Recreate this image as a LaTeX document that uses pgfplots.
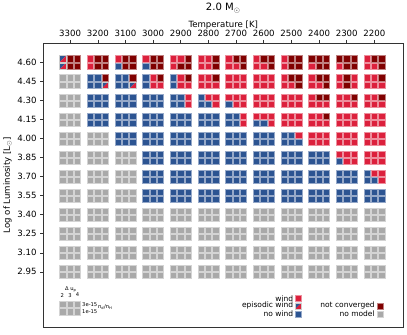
\documentclass[border=0pt]{standalone}
\usepackage{pgfplots}
\usepackage{pgfplotstable}
\pgfplotsset{compat=1.18}
\usepackage{fontspec}
\setmainfont{DejaVu Sans}

\definecolor{cW}{RGB}{220,32,60}
\definecolor{cC}{RGB}{128,0,0}
\definecolor{cN}{RGB}{44,84,146}
\definecolor{cG}{RGB}{169,169,169}

% episodic wind: no-wind blue upper left, wind red lower right
\pgfdeclareplotmark{episodic}{%
  \pgfpathmoveto{\pgfqpoint{-\pgfplotmarksize}{-\pgfplotmarksize}}%
  \pgfpathlineto{\pgfqpoint{-\pgfplotmarksize}{\pgfplotmarksize}}%
  \pgfpathlineto{\pgfqpoint{\pgfplotmarksize}{\pgfplotmarksize}}%
  \pgfpathclose
  \pgfsetfillcolor{cN}\pgfusepath{fill}%
  \pgfpathmoveto{\pgfqpoint{-\pgfplotmarksize}{-\pgfplotmarksize}}%
  \pgfpathlineto{\pgfqpoint{\pgfplotmarksize}{-\pgfplotmarksize}}%
  \pgfpathlineto{\pgfqpoint{\pgfplotmarksize}{\pgfplotmarksize}}%
  \pgfpathclose
  \pgfsetfillcolor{cW}\pgfusepath{fill}%
  \pgfpathrectangle{\pgfqpoint{-\pgfplotmarksize}{-\pgfplotmarksize}}%
    {\pgfqpoint{2\pgfplotmarksize}{2\pgfplotmarksize}}%
  \pgfusepath{stroke}%
}

% a b c: upper row (3e-15), du = 2 3 4 ; d e f: lower row (1e-15)
\pgfplotstableread{
T L a b c d e f
3300 4.60 E C C E C C
3200 4.60 W C C W C C
3100 4.60 W C C N C C
3000 4.60 W C C N C C
2900 4.60 W W C W C C
2800 4.60 W W C W W C
2700 4.60 W C C W W C
2600 4.60 W C C W W C
2500 4.60 W C C W C C
2400 4.60 C C C W C C
2300 4.60 C C C W C C
2200 4.60 W C C W W C
3300 4.45 G G G G G G
3200 4.45 N N C N N E
3100 4.45 N N C N N E
3000 4.45 N W C N W W
2900 4.45 N W C N W W
2800 4.45 W W C W W W
2700 4.45 W W W W W W
2600 4.45 W W W W W W
2500 4.45 W C C W W C
2400 4.45 W C C W W C
2300 4.45 W C W W C W
2200 4.45 W W C W W W
3300 4.30 G G G G G G
3200 4.30 N N N N N N
3100 4.30 N N N N N N
3000 4.30 N N N N N N
2900 4.30 N N W N N W
2800 4.30 N W W N N W
2700 4.30 W W W N W W
2600 4.30 W W W W W W
2500 4.30 W W W W W W
2400 4.30 W C C W W W
2300 4.30 W W C W W W
2200 4.30 W W C W W W
3300 4.15 G G G G G G
3200 4.15 N N N N N N
3100 4.15 N N N N N N
3000 4.15 N N N N N N
2900 4.15 N N N N N N
2800 4.15 N N N N N N
2700 4.15 N N W N N W
2600 4.15 W W W N N W
2500 4.15 W W W W W W
2400 4.15 W W C W W W
2300 4.15 W W W W W W
2200 4.15 W W W W W W
3300 4.00 G G G G G G
3200 4.00 G G G G G G
3100 4.00 N N N N N N
3000 4.00 N N N N N N
2900 4.00 N N N N N N
2800 4.00 N N N N N N
2700 4.00 N N N N N N
2600 4.00 N N N N N N
2500 4.00 N N W N N N
2400 4.00 W W W W W W
2300 4.00 W W W W W W
2200 4.00 W W W W W W
3300 3.85 G G G G G G
3200 3.85 G G G G G G
3100 3.85 G G G G G G
3000 3.85 N N N N N N
2900 3.85 N N N N N N
2800 3.85 N N N N N N
2700 3.85 N N N N N N
2600 3.85 N N N N N N
2500 3.85 N N N N N N
2400 3.85 N N N N N N
2300 3.85 W W W N W W
2200 3.85 W W W W W W
3300 3.70 G G G G G G
3200 3.70 G G G G G G
3100 3.70 G G G G G G
3000 3.70 N N N N N N
2900 3.70 N N N N N N
2800 3.70 N N N N N N
2700 3.70 N N N N N N
2600 3.70 N N N N N N
2500 3.70 N N N N N N
2400 3.70 N N N N N N
2300 3.70 N N N N N N
2200 3.70 N W W N N W
3300 3.55 G G G G G G
3200 3.55 G G G G G G
3100 3.55 G G G G G G
3000 3.55 N N N N N N
2900 3.55 N N N N N N
2800 3.55 N N N N N N
2700 3.55 N N N N N N
2600 3.55 N N N N N N
2500 3.55 N N N N N N
2400 3.55 N N N N N N
2300 3.55 N N N N N N
2200 3.55 N N N N N N
3300 3.40 G G G G G G
3200 3.40 G G G G G G
3100 3.40 G G G G G G
3000 3.40 G G G G G G
2900 3.40 G G G G G G
2800 3.40 G G G G G G
2700 3.40 G G G G G G
2600 3.40 G G G G G G
2500 3.40 G G G G G G
2400 3.40 G G G G G G
2300 3.40 G G G G G G
2200 3.40 G G G G G G
3300 3.25 G G G G G G
3200 3.25 G G G G G G
3100 3.25 G G G G G G
3000 3.25 G G G G G G
2900 3.25 G G G G G G
2800 3.25 G G G G G G
2700 3.25 G G G G G G
2600 3.25 G G G G G G
2500 3.25 G G G G G G
2400 3.25 G G G G G G
2300 3.25 G G G G G G
2200 3.25 G G G G G G
3300 3.10 G G G G G G
3200 3.10 G G G G G G
3100 3.10 G G G G G G
3000 3.10 G G G G G G
2900 3.10 G G G G G G
2800 3.10 G G G G G G
2700 3.10 G G G G G G
2600 3.10 G G G G G G
2500 3.10 G G G G G G
2400 3.10 G G G G G G
2300 3.10 G G G G G G
2200 3.10 G G G G G G
3300 2.95 G G G G G G
3200 2.95 G G G G G G
3100 2.95 G G G G G G
3000 2.95 G G G G G G
2900 2.95 G G G G G G
2800 2.95 G G G G G G
2700 2.95 G G G G G G
2600 2.95 G G G G G G
2500 2.95 G G G G G G
2400 2.95 G G G G G G
2300 2.95 G G G G G G
2200 2.95 G G G G G G
}\cells

\pgfplotsset{
  cellpts/.style={only marks, scatter, point meta=explicit symbolic,
    mark size=3.25pt, mark options={line width=0.5pt},
    scatter/classes={
      W={mark=square*, fill=cW, draw=cW!50!white},
      C={mark=square*, fill=cC, draw=cC!50!white},
      N={mark=square*, fill=cN, draw=cN!50!white},
      G={mark=square*, fill=cG, draw=cG!50!white},
      E={mark=episodic, draw=white!60!gray}}},
}
\tikzset{
  legtxt/.style={font=\fontsize{7.6}{9}\selectfont, inner sep=1pt},
  keytxt/.style={font=\fontsize{5.3}{6}\selectfont, inner sep=0.5pt},
}

\begin{document}
\begin{tikzpicture}
\begin{axis}[
    width=364pt, height=287pt, scale only axis,
    x dir=reverse,
    xmin=2096.4, xmax=3396.4,
    ymin=2.516, ymax=4.752,
    axis line style={black!80, line width=0.6pt},
    xtick pos=upper, xticklabel pos=upper, ytick pos=lower,
    tick align=outside, major tick length=3.5pt,
    tick style={black!80, line width=0.6pt},
    xtick={2200,2300,...,3300},
    ytick={2.95,3.1,3.25,3.4,3.55,3.7,3.85,4,4.15,4.3,4.45,4.6},
    yticklabels={2.95,3.10,3.25,3.40,3.55,3.70,3.85,4.00,4.15,4.30,4.45,4.60},
    /pgf/number format/1000 sep={},
    /pgf/number format/assume math mode=true,
    tick label style={font=\fontsize{8.7}{10}\selectfont},
    label style={font=\fontsize{8.7}{10}\selectfont},
    xlabel={Temperature [K]},
    xlabel style={at={(0.5,1)}, anchor=base, yshift=16pt},
    ylabel={Log of Luminosity [L$_\odot$]},
    ylabel style={yshift=-1pt},
    title={2.0 M$_\odot$},
    title style={font=\fontsize{10.2}{12}\selectfont, at={(0.5,1)}, anchor=base, yshift=27pt},
  ]
  % six sub-squares per model cell
  \addplot[cellpts] table[x expr=\thisrow{T}+26.4, y expr=\thisrow{L}+0.0292, meta=a] {\cells};
  \addplot[cellpts] table[x expr=\thisrow{T},      y expr=\thisrow{L}+0.0292, meta=b] {\cells};
  \addplot[cellpts] table[x expr=\thisrow{T}-26.4, y expr=\thisrow{L}+0.0292, meta=c] {\cells};
  \addplot[cellpts] table[x expr=\thisrow{T}+26.4, y expr=\thisrow{L}-0.0292, meta=d] {\cells};
  \addplot[cellpts] table[x expr=\thisrow{T},      y expr=\thisrow{L}-0.0292, meta=e] {\cells};
  \addplot[cellpts] table[x expr=\thisrow{T}-26.4, y expr=\thisrow{L}-0.0292, meta=f] {\cells};

  % key cell
  \addplot[cellpts] coordinates {
    (3326.4,2.6929) [G] (3300,2.6929) [G] (3273.6,2.6929) [G]
    (3326.4,2.6344) [G] (3300,2.6344) [G] (3273.6,2.6344) [G]};
  \node[keytxt, anchor=base] at (axis cs:3298,2.805) {Δ u\textsubscript{p}};
  \node[keytxt, anchor=base] at (axis cs:3328.6,2.748) {2};
  \node[keytxt, anchor=base] at (axis cs:3300,2.748) {3};
  \node[keytxt, anchor=base] at (axis cs:3273.2,2.756) {4};
  \node[keytxt, anchor=west] at (axis cs:3258.9,2.6929) {3e-15};
  \node[keytxt, anchor=west] at (axis cs:3258.9,2.6344) {1e-15};
  \node[keytxt, anchor=west] at (axis cs:3201.8,2.6714) {n\textsubscript{d}/n\textsubscript{H}};

  % legend
  \addplot[cellpts, mark size=3.1pt] coordinates {
    (2473.9,2.7416) [W] (2473.9,2.6816) [E] (2473.9,2.6184) [N]
    (2178.6,2.6816) [C] (2178.6,2.6184) [G]};
  \node[legtxt, anchor=east] at (axis cs:2489.3,2.7416) {wind};
  \node[legtxt, anchor=east] at (axis cs:2489.3,2.6816) {episodic wind};
  \node[legtxt, anchor=east] at (axis cs:2489.3,2.6184) {no wind};
  \node[legtxt, anchor=east] at (axis cs:2194.6,2.6816) {not converged};
  \node[legtxt, anchor=east] at (axis cs:2194.6,2.6184) {no model};
\end{axis}
\path (current axis.south east) ++(4pt,-8pt);
\end{tikzpicture}
\end{document}
